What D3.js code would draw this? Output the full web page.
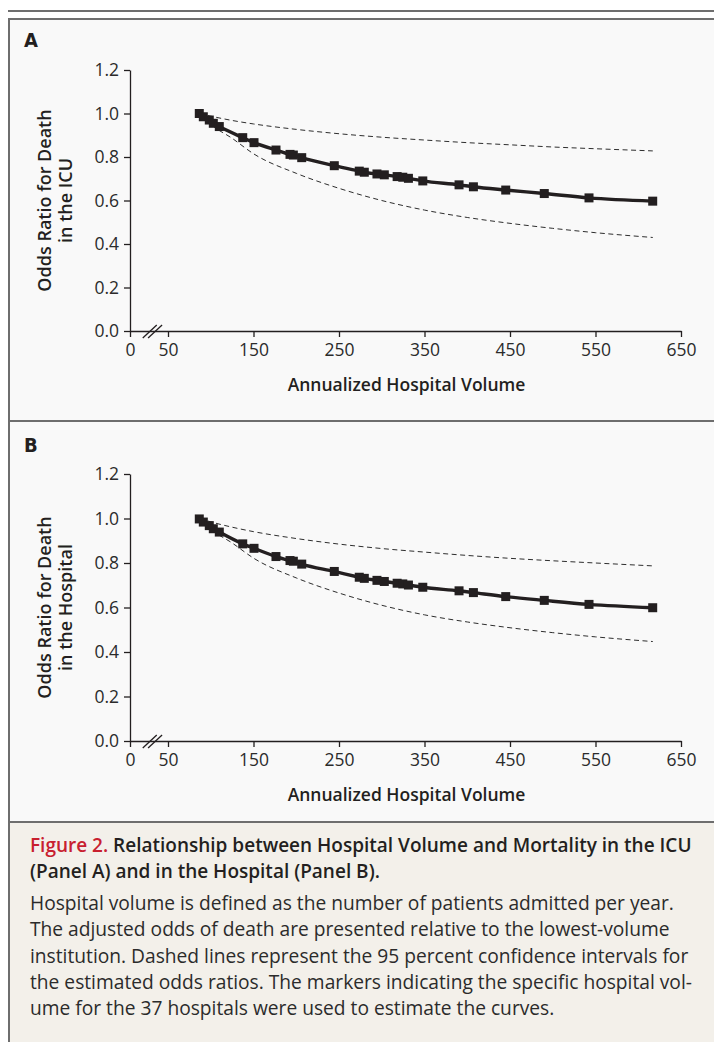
<!DOCTYPE html>
<html>
<head>
<meta charset="utf-8">
<script src="https://cdn.jsdelivr.net/npm/d3@7"></script>
<style>
  body { margin: 0; background: #fff; }
  svg { display: block; }
  .tick text { font-family: "Open Sans", sans-serif; font-size: 17.5px; fill: #2b2b2b; }
  .tick line, .domain { stroke: #231f20; stroke-width: 1.3; }
</style>
</head>
<body>
<div id="chart"></div>
<script>
// hospital volumes (same hospitals in both panels)
var hospitalVolume = [86.6, 91.3, 98.3, 103, 110, 137.4, 150.6, 176.3, 192.7, 196.6, 206.4,
  244.5, 273.7, 279.6, 294.4, 303, 318, 324.6, 331.2, 348, 390.4, 407.2, 445, 490.1, 542.4, 616.9];
var icuOdds = [1.0, 0.985, 0.97, 0.955, 0.94, 0.889, 0.866, 0.832, 0.812, 0.809, 0.797,
  0.76, 0.735, 0.73, 0.722, 0.718, 0.71, 0.707, 0.702, 0.69, 0.672, 0.663, 0.648, 0.632, 0.612, 0.597];
var hospOdds = [0.998, 0.984, 0.968, 0.954, 0.939, 0.886, 0.866, 0.829, 0.811, 0.808, 0.795,
  0.762, 0.736, 0.731, 0.722, 0.717, 0.709, 0.706, 0.701, 0.691, 0.675, 0.667, 0.649, 0.632, 0.614, 0.599];

// 95% confidence bands
var ciVolume = [87, 100, 125, 150, 200, 250, 300, 350, 400, 450, 500, 550, 617];
var icuUpper = [1.0, 0.988, 0.968, 0.952, 0.927, 0.907, 0.891, 0.878, 0.866, 0.856, 0.846, 0.838, 0.828];
var icuLower = [1.0, 0.95, 0.886, 0.815, 0.725, 0.656, 0.600, 0.556, 0.522, 0.495, 0.472, 0.452, 0.430];
var hospUpper = [1.0, 0.985, 0.961, 0.941, 0.910, 0.885, 0.865, 0.849, 0.834, 0.821, 0.810, 0.800, 0.787];
var hospLower = [1.0, 0.952, 0.89, 0.822, 0.733, 0.665, 0.610, 0.567, 0.535, 0.509, 0.487, 0.468, 0.447];

var xTicks = [0, 50, 150, 250, 350, 450, 550, 650];
var yTicks = [0, 0.2, 0.4, 0.6, 0.8, 1.0, 1.2];

var captionTitle = ["Relationship between Hospital Volume and Mortality in the ICU",
  "(Panel A) and in the Hospital (Panel B)."];
var captionBody = [
  "Hospital volume is defined as the number of patients admitted per year.",
  "The adjusted odds of death are presented relative to the lowest-volume",
  "institution. Dashed lines represent the 95 percent confidence intervals for",
  "the estimated odds ratios. The markers indicating the specific hospital vol-",
  "ume for the 37 hospitals were used to estimate the curves."];

var W = 714, H = 1042,
FRAME = "#6e6e6e",
INK = "#231f20",
svg = d3.select("#chart").append("svg")
  .attr("width", W)
  .attr("height", H);

// frame and backgrounds
svg.append("rect").attr("x", 9).attr("y", 19).attr("width", W).attr("height", 803)
  .style("fill", "#f9f9f9");
svg.append("rect").attr("x", 9).attr("y", 822).attr("width", W).attr("height", H)
  .style("fill", "#f3f0ea");
svg.append("line").attr("x1", 8).attr("x2", W).attr("y1", 11).attr("y2", 11)
  .style("stroke", FRAME).style("stroke-width", 2.2);
[19, 421, 822].forEach(function(y) {
  svg.append("line").attr("x1", 8).attr("x2", W).attr("y1", y).attr("y2", y)
    .style("stroke", FRAME).style("stroke-width", 2.2);
});
svg.append("line").attr("x1", 9).attr("x2", 9).attr("y1", 18).attr("y2", H)
  .style("stroke", FRAME).style("stroke-width", 2);

// x scale has a break between 0 and 50
var x = d3.scaleLinear().domain([0, 50, 650]).range([130, 168, 681]);

function drawPanel(label, top, bottom, labelY, yTitle, odds, upper, lower) {
  var y = d3.scaleLinear().domain([0, 1.2]).range([bottom, top]);
  var g = svg.append("g");

  g.append("text")
    .attr("x", 24).attr("y", labelY)
    .style("font-family", "'Liberation Sans Narrow', 'DejaVu Sans Condensed', sans-serif")
    .style("font-weight", "bold").style("font-size", "20px").style("fill", INK)
    .text(label);

  g.append("g")
    .attr("transform", "translate(" + x(0) + ",0)")
    .call(d3.axisLeft(y).tickValues(yTicks).tickFormat(d3.format(".1f"))
      .tickSize(6).tickSizeOuter(0).tickPadding(5));

  g.append("g")
    .attr("transform", "translate(0," + bottom + ")")
    .call(d3.axisBottom(x).tickValues(xTicks).tickFormat(d3.format("d"))
      .tickSize(6).tickSizeOuter(0).tickPadding(7));

  // axis break marks
  [26, 33].forEach(function(v) {
    g.append("line")
      .attr("x1", x(v) - 7).attr("y1", bottom + 7)
      .attr("x2", x(v) + 7).attr("y2", bottom - 6)
      .style("stroke", INK).style("stroke-width", 1.3);
  });

  g.append("text")
    .attr("x", (x(0) + x(650)) / 2 + 1).attr("y", bottom + 60)
    .attr("text-anchor", "middle")
    .style("font-family", "'Open Sans', sans-serif").style("font-weight", 600)
    .style("font-size", "17.5px").style("fill", INK)
    .text("Annualized Hospital Volume");

  var yt = g.append("text")
    .attr("transform", "translate(51," + (top + bottom) / 2 + ") rotate(-90)")
    .attr("text-anchor", "middle")
    .style("font-family", "'Open Sans', sans-serif").style("font-weight", 600)
    .style("font-size", "18px").style("fill", INK);
  yt.append("tspan").attr("x", 0).attr("y", 0).text(yTitle[0]);
  yt.append("tspan").attr("x", 0).attr("y", 21).text(yTitle[1]);

  var band = d3.line()
    .x(function(d, i) { return x(ciVolume[i]); })
    .y(function(d) { return y(d); })
    .curve(d3.curveMonotoneX);
  [upper, lower].forEach(function(s) {
    g.append("path").attr("d", band(s))
      .style("fill", "none").style("stroke", "#2e2e2e")
      .style("stroke-width", 1).style("stroke-dasharray", "5,3.5");
  });

  var main = d3.line()
    .x(function(d, i) { return x(hospitalVolume[i]); })
    .y(function(d) { return y(d); })
    .curve(d3.curveMonotoneX);
  g.append("path").attr("d", main(odds))
    .style("fill", "none").style("stroke", INK).style("stroke-width", 3.4);

  var S = 9;
  g.selectAll("rect.mk").data(odds).enter().append("rect")
    .attr("class", "mk")
    .attr("x", function(d, i) { return x(hospitalVolume[i]) - S / 2; })
    .attr("y", function(d) { return y(d) - S / 2; })
    .attr("width", S).attr("height", S)
    .style("fill", INK);
}

drawPanel("A", 70, 331, 47, ["Odds Ratio for Death", "in the ICU"], icuOdds, icuUpper, icuLower);
drawPanel("B", 474, 741, 452, ["Odds Ratio for Death", "in the Hospital"], hospOdds, hospUpper, hospLower);

// caption
var cap = svg.append("g")
  .style("font-family", "'Open Sans', sans-serif").style("fill", INK);
var t1 = cap.append("text").attr("x", 30).attr("y", 852)
  .style("font-size", "19px").style("font-weight", 600);
t1.append("tspan").style("fill", "#c8202f").text("Figure 2. ");
t1.append("tspan").text(captionTitle[0]);
cap.append("text").attr("x", 30).attr("y", 878)
  .style("font-size", "19px").style("font-weight", 600)
  .text(captionTitle[1]);
cap.selectAll("text.body").data(captionBody).enter().append("text")
  .attr("class", "body")
  .attr("x", 30)
  .attr("y", function(d, i) { return 910 + i * 26.3; })
  .style("font-size", "19.2px")
  .style("fill", "#2b2b2b")
  .text(function(d) { return d; });
</script>
</body>
</html>
